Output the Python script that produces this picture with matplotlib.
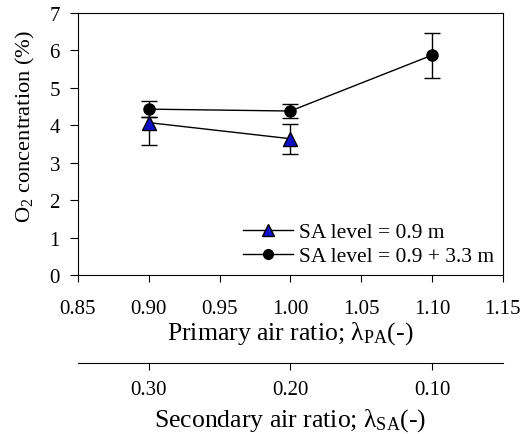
import matplotlib.pyplot as plt
from matplotlib.lines import Line2D

plt.rcParams['font.family'] = ['Liberation Serif', 'DejaVu Serif']
plt.rcParams['mathtext.fontset'] = 'custom'
plt.rcParams['mathtext.rm'] = 'Liberation Serif'
plt.rcParams['mathtext.it'] = 'Liberation Serif'

# primary air ratio (x) and O2 concentration
pa_low = [0.90, 1.00]
o2_low = [4.07, 3.64]
err_low_minus = [0.59, 0.40]
err_low_plus = [0.15, 0.40]

pa_high = [0.90, 1.00, 1.10]
o2_high = [4.43, 4.38, 5.87]
err_high = [0.21, 0.19, 0.60]

x_ticks = [0.85, 0.90, 0.95, 1.00, 1.05, 1.10, 1.15]
sa_ticks = [0.30, 0.20, 0.10]

labels = ['SA level = 0.9 m', 'SA level = 0.9 + 3.3 m']


def pa_to_sa(x):
    return 1.2 - x


fig = plt.figure(figsize=(5.27, 4.35), dpi=100)
ax = fig.add_axes([0.148, 0.3655, 0.806, 0.6025])

ax.errorbar(pa_low, o2_low, yerr=[err_low_minus, err_low_plus], color='black',
            lw=1, capsize=6, capthick=1, marker='^', ms=10, mfc='#1010c8',
            mec='black', zorder=3)
ax.errorbar(pa_high, o2_high, yerr=err_high, color='black', lw=1, capsize=6,
            capthick=1, marker='o', ms=8, mfc='black', mec='black', zorder=3)

ax.set_xlim(0.85, 1.15)
ax.set_ylim(0, 7)
ax.set_xticks(x_ticks)
ax.set_xticklabels(['%.2f' % t for t in x_ticks])
ax.set_yticks(range(0, 8))
ax.tick_params(axis='x', direction='out', labelsize=15, length=5, pad=12)
ax.tick_params(axis='y', direction='out', labelsize=15, length=6, pad=7)
ax.set_xlabel(r'Primary air ratio; $\lambda_{\mathrm{PA}}$(-)', fontsize=18.5, labelpad=1)
ax.set_ylabel(r'O$_2$ concentration (%)', fontsize=16.2)
ax.yaxis.set_label_coords(-0.097, 0.57)

sec = ax.secondary_xaxis(-0.336, functions=(pa_to_sa, pa_to_sa))
sec.set_xticks(sa_ticks)
sec.set_xticklabels(['%.2f' % t for t in sa_ticks])
sec.tick_params(direction='out', labelsize=15, length=5, pad=7)
sec.set_xlabel(r'Secondary air ratio; $\lambda_{\mathrm{SA}}$(-)', fontsize=18.5, labelpad=5)

handles = [
    Line2D([], [], color='black', lw=1, marker='^', ms=8, mfc='#1010c8', mec='black'),
    Line2D([], [], color='black', lw=1, marker='o', ms=7, mfc='black', mec='black'),
]
ax.legend(handles, labels, loc='lower right', frameon=False, fontsize=15.5,
          handlelength=2.3, handletextpad=0.28, borderaxespad=0.0,
          labelspacing=0.18)

fig.savefig('out.png', dpi=100)
